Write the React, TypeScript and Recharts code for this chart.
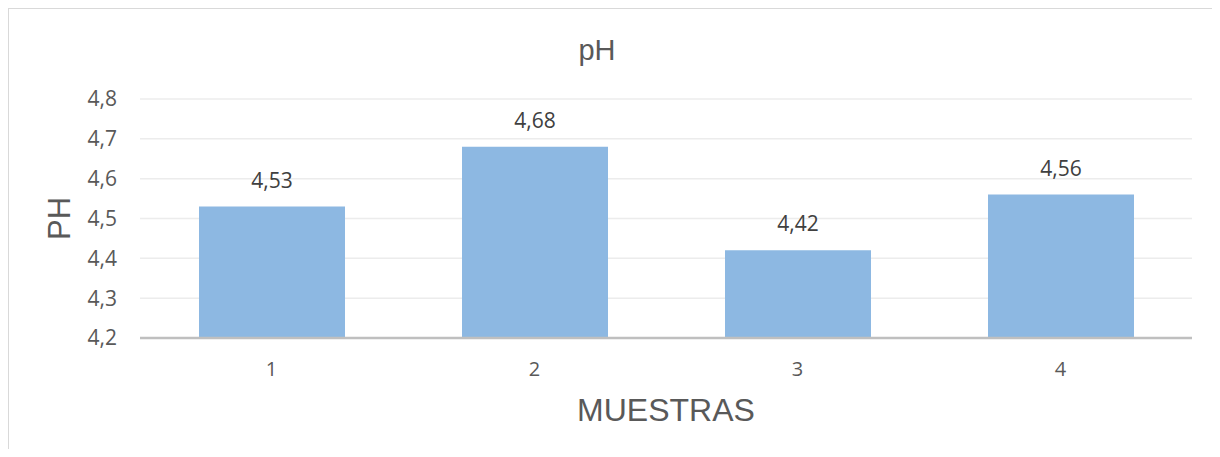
import { BarChart, Bar, XAxis, YAxis, CartesianGrid, LabelList, Label } from "recharts";

const samples = ["1", "2", "3", "4"];
const phValues = [4.53, 4.68, 4.42, 4.56];
const yTicks = [4.2, 4.3, 4.4, 4.5, 4.6, 4.7, 4.8];

const data = samples.map((s, i) => ({ sample: s, ph: phValues[i] }));

const comma = (v: number) => v.toString().replace(".", ",");
const tickFont = "'Open Sans', 'Noto Sans', sans-serif";
const titleFont = "'Liberation Sans', Arial, sans-serif";

export default function App() {
  return (
    <div style={{ position: "relative", width: 1220, height: 457, margin: -8, background: "#fff" }}>
      <div
        style={{
          position: "absolute",
          left: 0,
          width: 1220,
          top: 33,
          textAlign: "center",
          fontFamily: titleFont,
          fontSize: 29,
          color: "#595959",
          lineHeight: "34px",
        }}
      >
        <span style={{ position: "relative", left: -13 }}>pH</span>
      </div>
      <div style={{ position: "absolute", left: 0, top: 0 }}>
        <BarChart width={1220} height={457} data={data} margin={{ top: 99, right: 28, bottom: 89, left: 0 }}>
          <CartesianGrid vertical={false} stroke="#ececec" strokeWidth={1.5} />
          <XAxis
            dataKey="sample"
            height={30}
            axisLine={{ stroke: "#bfbfbf", strokeWidth: 2.5 }}
            tickLine={false}
            tickMargin={18}
            tick={{ fill: "#595959", fontSize: 20, fontFamily: tickFont }}
            label={{
              value: "MUESTRAS",
              position: "insideBottom",
              offset: -53,
              fill: "#595959",
              fontSize: 32,
              fontFamily: titleFont,
            }}
          />
          <YAxis
            width={140}
            domain={[4.2, 4.8]}
            ticks={yTicks}
            allowDataOverflow
            axisLine={false}
            tickLine={false}
            tickFormatter={comma}
            tickMargin={17}
            tick={{ fill: "#595959", fontSize: 21, fontFamily: tickFont }}
          >
            <Label
              content={({ viewBox }: any) => {
                const cy = viewBox.y + viewBox.height / 2;
                return (
                  <text
                    x={59}
                    y={cy}
                    transform={`rotate(-90 59 ${cy})`}
                    textAnchor="middle"
                    dominantBaseline="central"
                    fill="#595959"
                    fontSize={31}
                    fontFamily={titleFont}
                  >
                    PH
                  </text>
                );
              }}
            />
          </YAxis>
          <Bar dataKey="ph" fill="#8db8e2" barSize={146} isAnimationActive={false}>
            <LabelList
              dataKey="ph"
              position="top"
              offset={19}
              formatter={(v: number) => comma(v)}
              style={{ fill: "#404040", fontSize: 21, fontFamily: tickFont }}
            />
          </Bar>
        </BarChart>
      </div>
      {/* frame of the chart area */}
      <div
        style={{
          position: "absolute",
          left: 7,
          top: 7,
          width: 1211,
          height: 458,
          borderLeft: "2px solid #d9d9d9",
          borderTop: "2px solid #d9d9d9",
          borderRight: "2px solid #d9d9d9",
          boxSizing: "border-box",
          pointerEvents: "none",
          zIndex: 5,
        }}
      />
    </div>
  );
}
